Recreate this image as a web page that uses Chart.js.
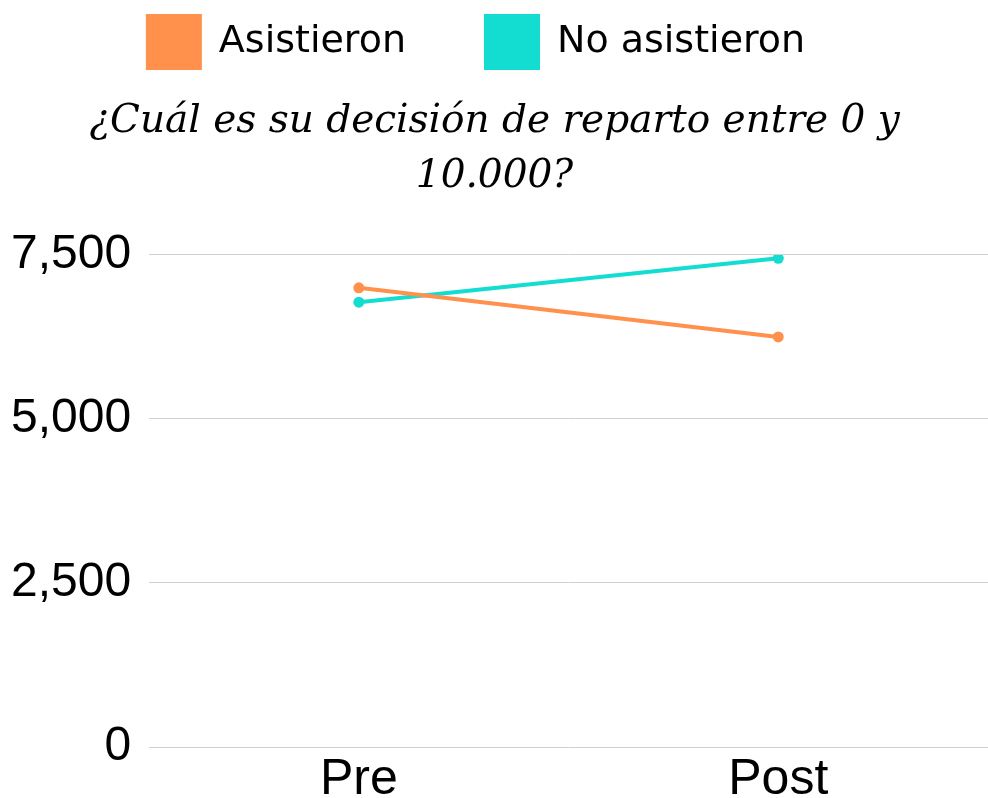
<!DOCTYPE html>
<html>
<head>
<meta charset="utf-8">
<script src="https://cdn.jsdelivr.net/npm/chart.js@4/dist/chart.umd.min.js"></script>
<style>
  html, body { margin: 0; padding: 0; background: #fff; overflow: hidden; }
  #wrap { width: 988px; height: 798px; }
</style>
</head>
<body>
<div id="wrap"><canvas id="chart"></canvas></div>
<script>
// data
const categories = ["Pre", "Post"];
const asistieron = [7000, 6250];
const noAsistieron = [6780, 7450];
const yTicks = [0, 2500, 5000, 7500];
const titleLines = ["¿Cuál es su decisión de reparto entre 0 y", "10.000?"];

const orange = "#FF914D";
const cyan = "#13DDD1";

// legend sits a bit left of center in the original
const shiftLegend = {
    id: "shiftLegend",
    afterLayout(chart) {
        chart.legend.left -= 18;
        chart.legend.right -= 18;
    }
};

const ctx = document.getElementById("chart").getContext("2d");
new Chart(ctx, {
    type: "line",
    data: {
        labels: categories,
        datasets: [
            {
                label: "Asistieron",
                data: asistieron,
                borderColor: orange,
                backgroundColor: orange,
                borderWidth: 4,
                pointRadius: 5.5,
                pointBorderWidth: 0
            },
            {
                label: "No asistieron",
                data: noAsistieron,
                borderColor: cyan,
                backgroundColor: cyan,
                borderWidth: 4,
                pointRadius: 5.5,
                pointBorderWidth: 0
            }
        ]
    },
    plugins: [shiftLegend],
    options: {
        responsive: true,
        maintainAspectRatio: false,
        animation: false,
        layout: { autoPadding: false, padding: { top: -64, right: -8, left: -7, bottom: -7 } },
        plugins: {
            legend: {
                display: true,
                position: "top",
                weight: 3000,
                labels: {
                    boxWidth: 52,
                    boxHeight: 52,
                    padding: 80,
                    color: "#000",
                    font: { family: "'DejaVu Sans'", size: 38 }
                }
            },
            title: {
                display: true,
                text: titleLines,
                color: "#000",
                font: { family: "'DejaVu Serif'", style: "italic", size: 39, weight: "normal", lineHeight: 1.41 },
                padding: { top: 16, bottom: 51 }
            },
            tooltip: { enabled: false }
        },
        scales: {
            x: {
                offset: true,
                afterFit: (scale) => { scale.paddingLeft = 0; scale.paddingRight = 0; },
                grid: { display: false },
                border: { display: false },
                ticks: {
                    color: "#000",
                    padding: 0,
                    font: { family: "'Liberation Sans'", size: 50, lineHeight: 1.0 }
                }
            },
            y: {
                min: 0,
                max: 7500,
                afterBuildTicks: (axis) => { axis.ticks = yTicks.map(v => ({ value: v })); },
                grid: { color: "#d0d0d0", lineWidth: 1, drawTicks: false },
                border: { display: false },
                ticks: {
                    color: "#000",
                    padding: 18,
                    font: { family: "'Liberation Sans'", size: 48 },
                    callback: (v) => v.toLocaleString("en-US")
                }
            }
        }
    }
});
</script>
</body>
</html>
